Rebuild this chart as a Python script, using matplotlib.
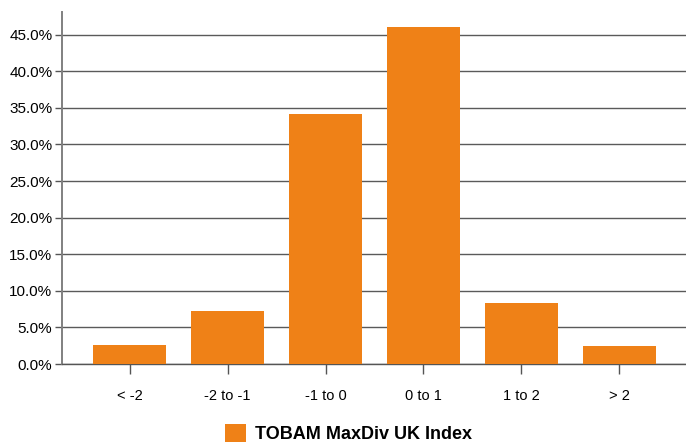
import matplotlib.pyplot as plt
from matplotlib.ticker import FuncFormatter

plt.rcParams['font.family'] = ['Liberation Sans', 'DejaVu Sans']

categories = ["< -2", "-2 to -1", "-1 to 0", "0 to 1", "1 to 2", "> 2"]
values = [2.6, 7.25, 34.1, 46.0, 8.3, 2.45]
series_name = "TOBAM MaxDiv UK Index"
yticks = [0, 5, 10, 15, 20, 25, 30, 35, 40, 45]

fig = plt.figure(figsize=(6.86, 4.44), dpi=100)
ax = fig.add_axes([62 / 686, 80 / 444, 625 / 686, 352 / 444])

x = range(len(categories))
bars = ax.bar(x, values, width=0.745, color="#EF8117", zorder=3, label=series_name)

ax.set_xlim(-0.69, len(categories) - 0.31)
ax.set_ylim(0, 48.1)
ax.set_yticks(yticks)
ax.yaxis.set_major_formatter(FuncFormatter(lambda v, p: f"{v:.1f}%"))
ax.set_xticks(list(x))
ax.set_xticklabels(categories)

ax.grid(axis="y", color="#5a5a5a", linewidth=1.0, zorder=0)
for s in ["top", "right"]:
    ax.spines[s].set_visible(False)
ax.spines["left"].set_color("#808080")
ax.spines["left"].set_linewidth(1.4)
ax.spines["bottom"].set_color("#555555")
ax.spines["bottom"].set_linewidth(1.0)

ax.tick_params(axis="y", length=5, width=1, color="#555555", labelsize=11, pad=2)
ax.tick_params(axis="x", length=7, width=1, color="#555555", labelsize=10.5, pad=11)

fig.legend(handles=[bars], labels=[series_name], loc="center",
           bbox_to_anchor=(0.508, 0.024), frameon=False,
           prop={"weight": "bold", "size": 13}, handlelength=1.2,
           handleheight=1.2, handletextpad=0.5)

fig.savefig("out.png", dpi=100)
